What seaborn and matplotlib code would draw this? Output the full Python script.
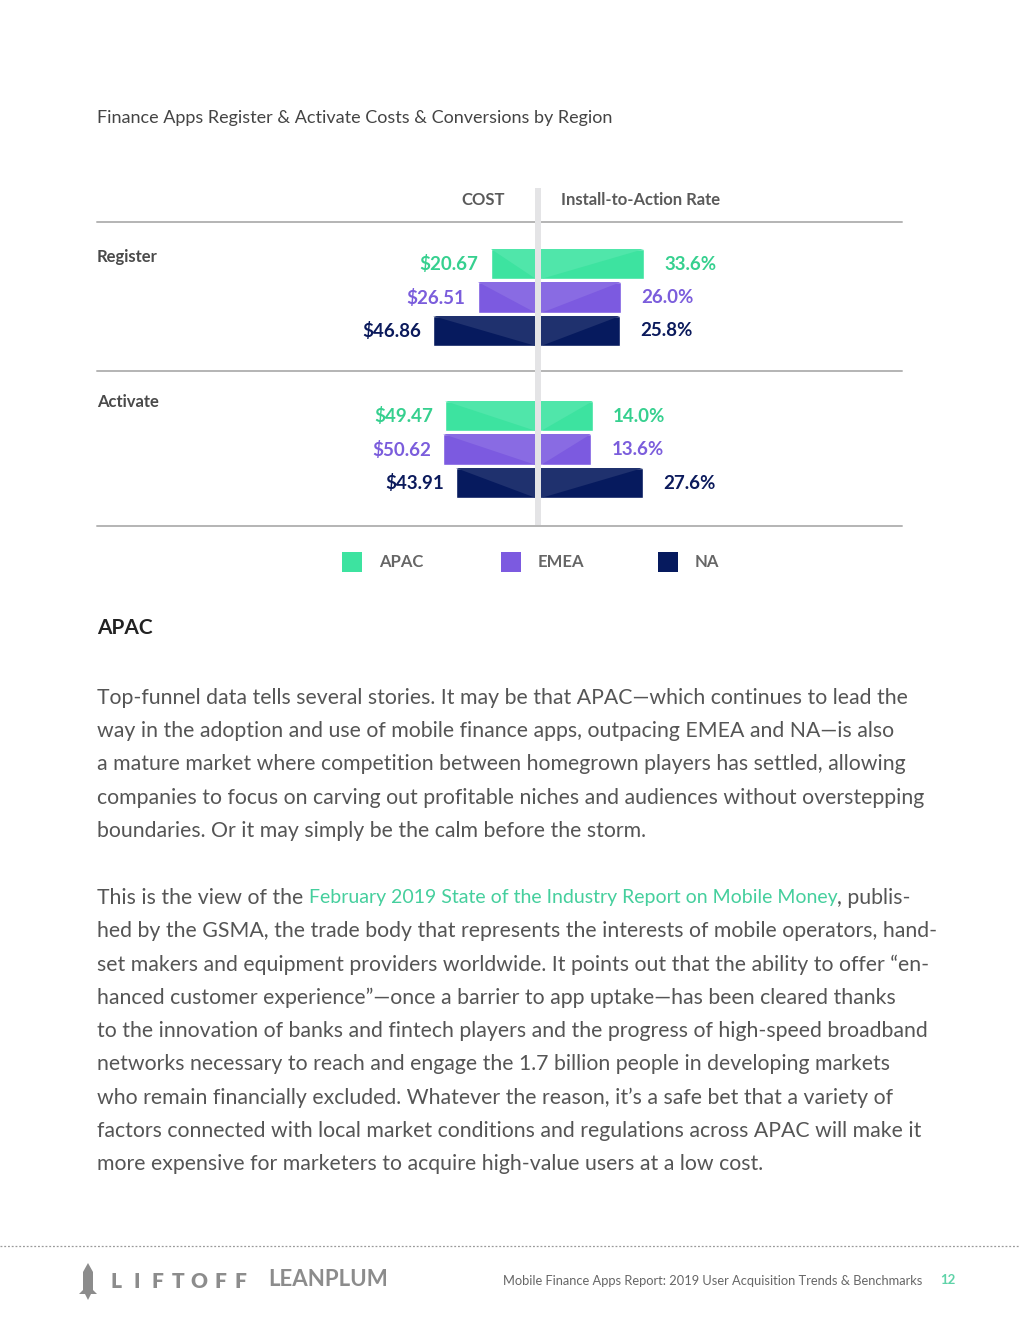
##
## Finance apps: register & activate costs / conversions by region (report page 12)
##
import numpy as np
import pandas as pd
import matplotlib
matplotlib.use('Agg')
import matplotlib.pyplot as plt
from matplotlib.patches import Polygon, Rectangle
from matplotlib.lines import Line2D
from matplotlib.colors import to_rgb
import seaborn as sns

sns.set_theme(style='white')
plt.rcParams['font.family'] = ['Lato', 'DejaVu Sans']

# ---- data ----
regions = ['APAC', 'EMEA', 'NA']
colors = ['#3de3a0', '#7c5ae0', '#061a5e']
label_colors = ['#36d08f', '#7b5ddc', '#0b1a5c']
groups = ['Register', 'Activate']
register_cost = [20.67, 26.51, 46.86]
register_rate = [33.6, 26.0, 25.8]
activate_cost = [49.47, 50.62, 43.91]
activate_rate = [14.0, 13.6, 27.6]

W, H = 1020, 1320
fig = plt.figure(figsize=(W / 100, H / 100), dpi=100)
fig.patch.set_facecolor('white')


def fx(x):
    return x / W


def fy(y):
    return 1 - y / H


def lighten(c, amt=0.1):
    r, g, b = to_rgb(c)
    return (r + (1 - r) * amt, g + (1 - g) * amt, b + (1 - b) * amt)


def ftext(x, y, s, **kw):
    return fig.text(fx(x), fy(y), s, **kw)


# title
ftext(97, 118, 'Finance Apps Register & Activate Costs & Conversions by Region',
      fontsize=13, color='#444444', va='center')

# column headers
ftext(505, 200, 'COST', fontsize=12, fontweight='bold', color='#5a5a5a',
      ha='right', va='center')
ftext(561, 200, 'Install-to-Action Rate', fontsize=12, fontweight='bold',
      color='#5a5a5a', ha='left', va='center')


def draw_side(ax, values, side, scale_max):
    df = pd.DataFrame({'region': regions, 'value': values})
    sns.barplot(data=df, y='region', x='value', hue='region', palette=colors,
                width=0.9, saturation=1, legend=False, ax=ax)
    ax.set_xlim(0, scale_max)
    ax.set_ylim(2.5, -0.5)
    if side == 'left':
        ax.invert_xaxis()
    # folded look: lighter triangle next to the centre line
    for bar, col in zip(ax.patches, colors):
        v = bar.get_width()
        y0 = bar.get_y()
        h = bar.get_height()
        tri = Polygon([(v, y0), (0, y0), (0, y0 + h)], closed=True,
                      facecolor=lighten(col), edgecolor='none', zorder=3)
        ax.add_patch(tri)
    for i, v in enumerate(values):
        if side == 'left':
            ax.annotate(f'${v:.2f}', (v, i), xytext=(-12, 0),
                        textcoords='offset pixels', ha='right', va='center',
                        fontsize=13.5, fontweight='bold', color=label_colors[i])
        else:
            ax.annotate(f'{v:.1f}%', (v, i), xytext=(20, 0),
                        textcoords='offset pixels', ha='left', va='center',
                        fontsize=13.5, fontweight='bold', color=label_colors[i])
    ax.set_axis_off()


# geometry of the chart in page pixels
left_x0, centre_l, centre_r, right_x1 = 97, 536, 541, 902
row_step = 33.5
group_tops = [247.25, 399.25]
px_per_cost = [2.2, 1.83]
px_per_rate = [3.08, 3.7]
costs = [register_cost, activate_cost]
rates = [register_rate, activate_rate]

for g in range(2):
    top = group_tops[g]
    hgt = row_step * 3
    axl = fig.add_axes([fx(left_x0), fy(top + hgt), fx(centre_l - left_x0), hgt / H])
    draw_side(axl, costs[g], 'left', (centre_l - left_x0) / px_per_cost[g])
    axr = fig.add_axes([fx(centre_r), fy(top + hgt), fx(right_x1 - centre_r), hgt / H])
    draw_side(axr, rates[g], 'right', (right_x1 - centre_r) / px_per_rate[g])

# group labels
ftext(97, 257, 'Register', fontsize=12, fontweight='bold', color='#4a4a4a', va='center')
ftext(97, 402, 'Activate', fontsize=12, fontweight='bold', color='#4a4a4a', va='center')

# rules and centre divider
for yy in [222, 371, 526]:
    fig.add_artist(Line2D([fx(97), fx(902)], [fy(yy), fy(yy)], color='#b4b4b4', lw=1.4))
fig.add_artist(Rectangle((fx(535), fy(525)), fx(6), 337 / H, facecolor='#e4e4e6',
                         edgecolor='none', zorder=5))

# legend
leg_x = [342, 501, 658]
for i, r in enumerate(regions):
    fig.add_artist(Rectangle((fx(leg_x[i]), fy(572)), fx(20), 20 / H,
                             facecolor=colors[i], edgecolor='none'))
    ftext(leg_x[i] + 37, 562, r, fontsize=12, fontweight='bold', color='#666666', va='center')

# body text
ftext(97, 628, 'APAC', fontsize=15, fontweight='bold', color='#222222', va='center')

para1 = [
    'Top-funnel data tells several stories. It may be that APAC\u2014which continues to lead the',
    'way in the adoption and use of mobile finance apps, outpacing EMEA and NA\u2014is also',
    'a mature market where competition between homegrown players has settled, allowing',
    'companies to focus on carving out profitable niches and audiences without overstepping',
    'boundaries. Or it may simply be the calm before the storm.',
]
para2 = [
    None,
    'hed by the GSMA, the trade body that represents the interests of mobile operators, hand-',
    'set makers and equipment providers worldwide. It points out that the ability to offer \u201cen-',
    'hanced customer experience\u201d\u2014once a barrier to app uptake\u2014has been cleared thanks',
    'to the innovation of banks and fintech players and the progress of high-speed broadband',
    'networks necessary to reach and engage the 1.7 billion people in developing markets',
    'who remain financially excluded. Whatever the reason, it\u2019s a safe bet that a variety of',
    'factors connected with local market conditions and regulations across APAC will make it',
    'more expensive for marketers to acquire high-value users at a low cost.',
]
body_kw = dict(fontsize=15.3, color='#555555', va='center_baseline')
step = 33.25
for i, line in enumerate(para1):
    ftext(97, 696 + i * step, line, **body_kw)

renderer = fig.canvas.get_renderer()
t1 = ftext(97, 896, 'This is the view of the ', **body_kw)
x1 = t1.get_window_extent(renderer).x1
link_kw = dict(body_kw, color='#45cf9d', fontsize=14.0)
t2 = fig.text(x1 / W, fy(896), 'February 2019 State of the Industry Report on Mobile Money', **link_kw)
x2 = t2.get_window_extent(renderer).x1
fig.text(x2 / W, fy(896), ', publis-', **body_kw)
for i, line in enumerate(para2):
    if line:
        ftext(97, 896 + i * step, line, **body_kw)

# footer
fig.add_artist(Line2D([0, 1], [fy(1246), fy(1246)], color='#9a9a9a', lw=0.9, ls=(0, (1.5, 1.5))))
grey = '#8c8c8c'
# little rocket mark
fig.add_artist(Polygon([(fx(88), fy(1263)), (fx(93), fy(1272)), (fx(93), fy(1290)),
                        (fx(97), fy(1294)), (fx(79), fy(1294)), (fx(83), fy(1290)),
                        (fx(83), fy(1272))], closed=True, facecolor=grey, edgecolor='none'))
fig.add_artist(Polygon([(fx(85), fy(1294)), (fx(91), fy(1294)), (fx(88), fy(1300))],
                       closed=True, facecolor=grey, edgecolor='none'))
for k, ch in enumerate('LIFTOFF'):
    ftext(116 + k * 20.8, 1281, ch, fontsize=15, fontweight='heavy', color=grey,
          va='center', ha='center')
ftext(268, 1280, 'LEANPLUM', fontsize=16, fontweight='bold', color=grey, va='center')
ftext(922, 1281, 'Mobile Finance Apps Report: 2019 User Acquisition Trends & Benchmarks',
      fontsize=9.3, color='#666666', ha='right', va='center')
ftext(940, 1280, '12', fontsize=9.5, color='#5fd3a8', fontweight='bold', va='center')

fig.savefig('out.png', dpi=100, facecolor='white')
